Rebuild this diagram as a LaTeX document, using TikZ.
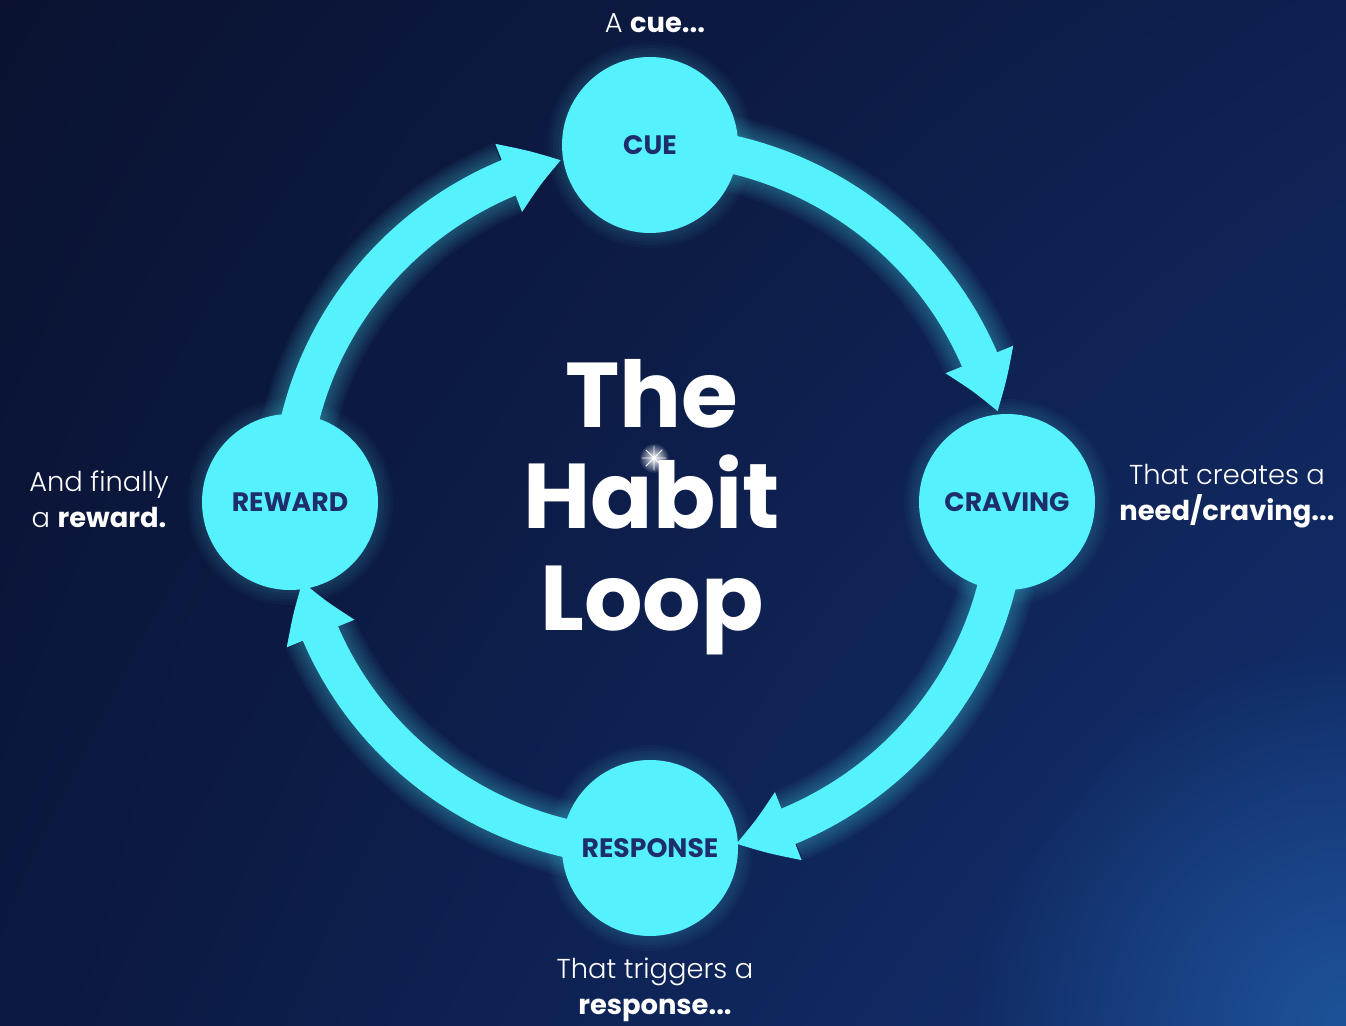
\documentclass[tikz,border=0pt]{standalone}
\usepackage{fontspec}
\setmainfont{Poppins}[UprightFont=* Light, BoldFont=* Bold]
\usetikzlibrary{arrows.meta,bending,fadings,shadings,backgrounds}

\definecolor{loopcyan}{HTML}{55F2FD}
\definecolor{loopnavy}{HTML}{1E2D6B}
\definecolor{bgUL}{HTML}{0A1230}
\definecolor{bgUR}{HTML}{0E2050}
\definecolor{bgLL}{HTML}{0B1840}
\definecolor{bgLR}{HTML}{133272}
\definecolor{bgglow}{HTML}{1E5298}

\tikzfading[name=softglow, inner color=transparent!0, outer color=transparent!100]

\begin{document}
\begin{tikzpicture}[
  x=0.75pt, y=0.75pt,
  stage/.style={circle, fill=loopcyan, minimum size=132pt, inner sep=0pt, text=loopnavy, font=\bfseries\fontsize{20}{24}\selectfont},
  note/.style={text=white, align=center, font=\fontsize{20.5}{27}\selectfont},
  title/.style={text=white, align=center, inner sep=0pt, font=\bfseries\fontsize{69}{76}\selectfont},
  loop arrow/.style={loopcyan, line width=28.5pt, -{Triangle[width=51.5pt, length=42pt, bend]}},
  halo/.style={loopcyan, opacity=0.045, line width=#1},
]
  \useasboundingbox (0,0) rectangle (1346,1025);

  % Background
  \begin{pgfonlayer}{background}
    \shade[upper left=bgUL, upper right=bgUR, lower left=bgLL, lower right=bgLR] (0,0) rectangle (1346,1025);
    \begin{scope}
      \clip (0,0) rectangle (1346,1025);
      \fill[bgglow, path fading=softglow] (1346,0) circle (380);
    \end{scope}
  \end{pgfonlayer}

  % The four stages
  \node[stage] (cue) at (650,880) {CUE};
  \node[stage] (craving) at (1007,523) {CRAVING};
  \node[stage] (response) at (650,177) {RESPONSE};
  \node[stage] (reward) at (290,523) {REWARD};

  % Loop arrows with their glow, under the stages
  \begin{pgfonlayer}{background}
    \foreach \from/\a in {cue/90, craving/0, response/-90, reward/180} {
      \foreach \g in {4,8,...,28}
        \draw[halo=28.5pt+\g pt] (\from.center) arc[start angle=\a, delta angle=-67, x radius=358, y radius=352];
      \foreach \g in {3,6,...,15}
        \fill[loopcyan, opacity=0.03] (\from) circle (88+\g);
      \draw[loop arrow] (\from.center) arc[start angle=\a, delta angle=-76, x radius=358, y radius=352];
    }
  \end{pgfonlayer}

  % Captions
  \node[note, anchor=base] (cuetext) at (655,992) {A \textbf{cue...}};
  \node[note] (cravingtext) at (1227,529) {That creates a\\\textbf{need/craving...}};
  \node[note] (responsetext) at (655,35) {That triggers a\\\textbf{response...}};
  \node[note] (rewardtext) at (99,526) {And finally\\a \textbf{reward.}};

  % Title and the little sparkle on it
  \node[title] (title) at (652,518) {The\\Habit\\Loop};
  \fill[white, path fading=softglow] (654,567) circle (15);
  \draw[white, line width=0.7pt, line cap=round] (642,567) -- (666,567) (654,555) -- (654,579)
    (646,559) -- (662,575) (646,575) -- (662,559);
\end{tikzpicture}
\end{document}
